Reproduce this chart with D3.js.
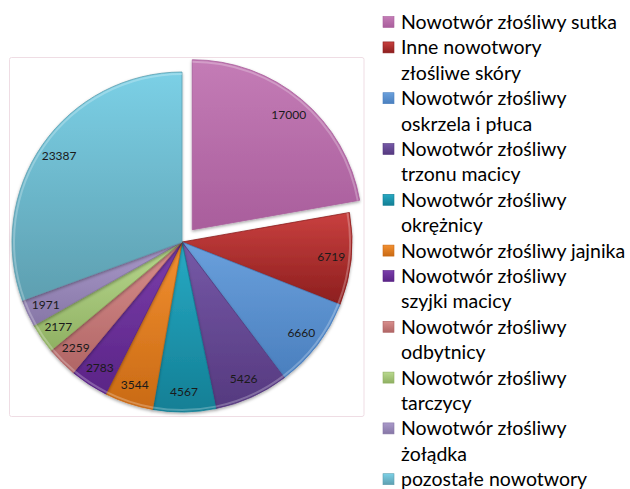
<!DOCTYPE html>
<html>
<head>
<meta charset="utf-8">
<script src="https://cdn.jsdelivr.net/npm/d3@7"></script>
<style>
  body { margin: 0; background: #fff; }
  svg { display: block; }
</style>
</head>
<body>
<div id="chart"></div>
<script>
// categories in clockwise order from 12 o'clock, "\n" marks the legend line break
var categories = [
  "Nowotwór złośliwy sutka",
  "Inne nowotwory\nzłośliwe skóry",
  "Nowotwór złośliwy\noskrzela i płuca",
  "Nowotwór złośliwy\ntrzonu macicy",
  "Nowotwór złośliwy\nokrężnicy",
  "Nowotwór złośliwy jajnika",
  "Nowotwór złośliwy\nszyjki macicy",
  "Nowotwór złośliwy\nodbytnicy",
  "Nowotwór złośliwy\ntarczycy",
  "Nowotwór złośliwy\nżołądka",
  "pozostałe nowotwory"
];
var values = [17000, 6719, 6660, 5426, 4567, 3544, 2783, 2259, 2177, 1971, 23387];
var colorsTop = ["#c47cb6", "#c9403f", "#6aa0dc", "#7659a7", "#28aac4", "#f39031", "#7b3eab", "#d98f8d", "#b9d98f", "#aa9aca", "#7bd0e6"];
var colorsBottom = ["#a95e9c", "#8c1e1e", "#4a7fbe", "#55397f", "#137f95", "#c96a14", "#5a2486", "#b06565", "#8fb062", "#8676a6", "#5e9fb0"];

var svgWidth = 630;
var svgHeight = 489;

var cx = 182, cy = 242, radius = 170;
var explode = 16;

var svg = d3.select("#chart")
  .append("svg")
  .attr("width", svgWidth)
  .attr("height", svgHeight);

var defs = svg.append("defs");

values.forEach(function(v, i) {
  var g = defs.append("linearGradient")
    .attr("id", "grad" + i)
    .attr("x1", 0).attr("y1", 0).attr("x2", 0).attr("y2", 1);
  g.append("stop").attr("offset", "0%").attr("stop-color", colorsTop[i]);
  g.append("stop").attr("offset", "100%").attr("stop-color", colorsBottom[i]);
});

var shadow = defs.append("filter")
  .attr("id", "shadow")
  .attr("x", "-20%").attr("y", "-20%").attr("width", "140%").attr("height", "140%");
shadow.append("feDropShadow")
  .attr("dx", 0).attr("dy", 1.5)
  .attr("stdDeviation", 1.5)
  .attr("flood-color", "#000")
  .attr("flood-opacity", 0.35);

// plot area border
svg.append("rect")
  .attr("x", 9.5)
  .attr("y", 57.5)
  .attr("width", 354.5)
  .attr("height", 359)
  .attr("rx", 2)
  .attr("fill", "none")
  .attr("stroke", "#efdde4")
  .attr("stroke-width", 1);

var pie = d3.pie()
  .sort(null)
  .value(function(d) { return d; });

var arcs = pie(values);

var arc = d3.arc()
  .innerRadius(0)
  .outerRadius(radius);

var pieGroup = svg.append("g")
  .attr("transform", "translate(" + cx + "," + cy + ")");

function offset(d, i) {
  if (i !== 0) return [0, 0];
  var mid = (d.startAngle + d.endAngle) / 2;
  return [Math.sin(mid) * explode, -Math.cos(mid) * explode];
}

pieGroup.selectAll("path.slice")
  .data(arcs)
  .enter()
  .append("path")
  .attr("class", "slice")
  .attr("transform", function(d, i) {
    var o = offset(d, i);
    return "translate(" + o[0] + "," + o[1] + ")";
  })
  .attr("d", arc)
  .attr("fill", function(d, i) { return "url(#grad" + i + ")"; })
  .attr("stroke", function(d, i) { return colorsBottom[i]; })
  .attr("stroke-width", 0.8)
  .attr("filter", "url(#shadow)");

// soft highlight along the outer edge
var rim = d3.arc()
  .innerRadius(radius - 3)
  .outerRadius(radius - 1);

pieGroup.selectAll("path.rim")
  .data(arcs)
  .enter()
  .append("path")
  .attr("class", "rim")
  .attr("transform", function(d, i) {
    var o = offset(d, i);
    return "translate(" + o[0] + "," + o[1] + ")";
  })
  .attr("d", rim)
  .attr("fill", "#fff")
  .attr("opacity", 0.25);

var labelArc = d3.arc()
  .innerRadius(150)
  .outerRadius(150);

pieGroup.selectAll("text")
  .data(arcs)
  .enter()
  .append("text")
  .attr("transform", function(d, i) {
    var o = offset(d, i);
    var c = labelArc.centroid(d);
    return "translate(" + (c[0] + o[0]) + "," + (c[1] + o[1]) + ")";
  })
  .attr("text-anchor", "middle")
  .attr("dy", "0.35em")
  .attr("font-family", "Lato, 'Open Sans', sans-serif")
  .attr("font-size", "12px")
  .attr("fill", "#1a1a1a")
  .text(function(d) { return d.data; });

// legend
var legend = svg.append("g")
  .attr("transform", "translate(383, 22)");

var lineH = 25.4;
var row = 0;

categories.forEach(function(name, i) {
  var lines = name.split("\n");
  var y = row * lineH;
  legend.append("rect")
    .attr("x", 0)
    .attr("y", y - 5.5)
    .attr("width", 11)
    .attr("height", 11)
    .attr("fill", "url(#grad" + i + ")")
    .attr("stroke", colorsBottom[i])
    .attr("stroke-width", 0.6);
  lines.forEach(function(line, j) {
    legend.append("text")
      .attr("x", 18)
      .attr("y", (row + j) * lineH)
      .attr("dy", "0.36em")
      .attr("font-family", "Lato, 'Open Sans', sans-serif")
      .attr("font-size", "19.5px")
      .attr("fill", "#000")
      .text(line);
  });
  row += lines.length;
});
</script>
</body>
</html>
